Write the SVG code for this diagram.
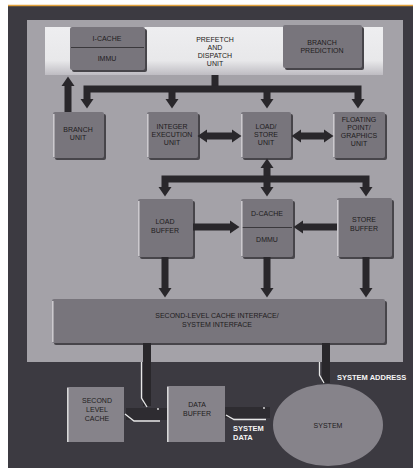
<svg xmlns="http://www.w3.org/2000/svg" width="416" height="468" viewBox="0 0 416 468">
<style>
.t{font-family:"Liberation Sans",Arial,sans-serif;font-size:7px;fill:#1e1c20;text-anchor:middle}
.w{font-family:"Liberation Sans",Arial,sans-serif;font-size:7.5px;font-weight:bold;fill:#f4f4f4}
.box{fill:#78757c}
.sh{fill:#47454a}
.hl{stroke:#d0ced2;stroke-width:1.5;fill:none}
.bus{stroke:#29272b;stroke-width:7;fill:none;stroke-linejoin:miter}
.lk{stroke:#29272b;stroke-width:8;fill:none}
.wl{stroke:#e6e6e6;stroke-width:1.3;fill:none}
.sep{stroke:#3a383c;stroke-width:1}
.low{fill:#86838a}
</style>
<defs>
<marker id="ah" viewBox="0 -7 10 14" markerUnits="userSpaceOnUse" markerWidth="10" markerHeight="14" refX="0" refY="0" orient="auto-start-reverse">
<path d="M0,-6.5 L9.5,0 L0,6.5 z" fill="#29272b"/>
</marker>
<linearGradient id="wg" x1="0" y1="0" x2="0" y2="1">
<stop offset="0" stop-color="#eeeef0"/>
<stop offset="0.7" stop-color="#e8e8ea"/>
<stop offset="1" stop-color="#bebcc2"/>
</linearGradient>
</defs>
<!-- frame -->
<rect x="0" y="0" width="416" height="468" fill="#ffffff"/>
<rect x="8" y="6" width="405" height="462" fill="#3c3a41"/>
<line x1="8" y1="5.5" x2="413" y2="5.5" stroke="#e3a23c" stroke-width="1.5"/>
<rect x="27" y="20" width="376" height="342" fill="#a4a2a8"/>
<g id="prefetch">
<rect x="45" y="27" width="338" height="48" fill="url(#wg)"/>
<text class="t" x="215" y="42">PREFETCH</text>
<text class="t" x="215" y="50">AND</text>
<text class="t" x="215" y="58">DISPATCH</text>
<text class="t" x="215" y="66">UNIT</text>
</g>
<g id="icache">
<rect class="sh" x="72" y="29" width="75" height="43" rx="2"/>
<rect class="box" x="70" y="27" width="75" height="43" rx="2"/>
<line class="sep" x1="71" y1="47.5" x2="144" y2="47.5"/>
<text class="t" x="107" y="41">I-CACHE</text>
<text class="t" x="107" y="61">IMMU</text>
</g>
<g id="branchpred">
<rect class="sh" x="285" y="27" width="79" height="43" rx="2"/>
<rect class="box" x="283" y="25" width="79" height="43" rx="2"/>
<text class="t" x="322" y="45">BRANCH</text>
<text class="t" x="322" y="53">PREDICTION</text>
</g>
<g id="branchunit">
<rect class="sh" x="55" y="114" width="51" height="46" rx="2"/>
<rect class="box" x="53" y="112" width="51" height="46" rx="2"/>
<line class="hl" x1="53.8" y1="114" x2="53.8" y2="157"/>
<text class="t" x="78" y="132">BRANCH</text>
<text class="t" x="78" y="140">UNIT</text>
</g>
<g id="integer">
<rect class="sh" x="149" y="114" width="51" height="46" rx="2"/>
<rect class="box" x="147" y="112" width="51" height="46" rx="2"/>
<line class="hl" x1="147.8" y1="114" x2="147.8" y2="157"/>
<text class="t" x="172" y="129">INTEGER</text>
<text class="t" x="172" y="137">EXECUTION</text>
<text class="t" x="172" y="145">UNIT</text>
</g>
<g id="loadstore">
<rect class="sh" x="243" y="114" width="50" height="46" rx="2"/>
<rect class="box" x="241" y="112" width="50" height="46" rx="2"/>
<line class="hl" x1="241.8" y1="114" x2="241.8" y2="157"/>
<text class="t" x="266" y="129">LOAD/</text>
<text class="t" x="266" y="137">STORE</text>
<text class="t" x="266" y="145">UNIT</text>
</g>
<g id="fpu">
<rect class="sh" x="335" y="114" width="52" height="46" rx="2"/>
<rect class="box" x="333" y="112" width="52" height="46" rx="2"/>
<line class="hl" x1="333.8" y1="114" x2="333.8" y2="157"/>
<text class="t" x="359" y="122">FLOATING</text>
<text class="t" x="359" y="130">POINT/</text>
<text class="t" x="359" y="138">GRAPHICS</text>
<text class="t" x="359" y="146">UNIT</text>
</g>
<g id="loadbuffer">
<rect class="sh" x="140" y="201" width="55" height="58" rx="2"/>
<rect class="box" x="138" y="199" width="55" height="58" rx="2"/>
<line class="hl" x1="138.8" y1="201" x2="138.8" y2="256"/>
<text class="t" x="165" y="224">LOAD</text>
<text class="t" x="165" y="233">BUFFER</text>
</g>
<g id="dcache">
<rect class="sh" x="243" y="201" width="52" height="58" rx="2"/>
<rect class="box" x="241" y="199" width="52" height="58" rx="2"/>
<line class="sep" x1="242" y1="227.5" x2="292" y2="227.5"/>
<line class="hl" x1="241.8" y1="201" x2="241.8" y2="256"/>
<text class="t" x="267" y="216">D-CACHE</text>
<text class="t" x="267" y="242">DMMU</text>
</g>
<g id="storebuffer">
<rect class="sh" x="339" y="200" width="55" height="59" rx="2"/>
<rect class="box" x="337" y="198" width="55" height="59" rx="2"/>
<line class="hl" x1="337.8" y1="200" x2="337.8" y2="256"/>
<text class="t" x="364" y="222">STORE</text>
<text class="t" x="364" y="231">BUFFER</text>
</g>
<g id="interface">
<rect class="sh" x="54" y="301" width="333" height="44" rx="2"/>
<rect class="box" x="52" y="299" width="333" height="44" rx="2"/>
<line class="hl" x1="52.8" y1="301" x2="52.8" y2="342"/>
<text class="t" x="217" y="318">SECOND-LEVEL CACHE INTERFACE/</text>
<text class="t" x="217" y="327">SYSTEM INTERFACE</text>
</g>
<g id="connectors">
<path class="bus" d="M215,75 V89"/>
<path class="bus" d="M87,99 V89 H358 V99" marker-start="url(#ah)" marker-end="url(#ah)"/>
<path class="bus" d="M172,89 V99" marker-end="url(#ah)"/>
<path class="bus" d="M267,89 V99" marker-end="url(#ah)"/>
<path class="bus" d="M68,112 V86" marker-end="url(#ah)"/>
<path class="bus" d="M207,136 H232" marker-start="url(#ah)" marker-end="url(#ah)"/>
<path class="bus" d="M301,136 H324" marker-start="url(#ah)" marker-end="url(#ah)"/>
<path class="bus" d="M267,168 V179" marker-start="url(#ah)"/>
<path class="bus" d="M165,187 V179 H366 V187" marker-start="url(#ah)" marker-end="url(#ah)"/>
<path class="bus" d="M267,179 V187" marker-end="url(#ah)"/>
<path class="bus" d="M193,227 H230" marker-end="url(#ah)"/>
<path class="bus" d="M337,227 H303" marker-end="url(#ah)"/>
<path class="bus" d="M165,257 V288" marker-end="url(#ah)"/>
<path class="bus" d="M267,257 V288" marker-end="url(#ah)"/>
<path class="bus" d="M366,257 V288" marker-end="url(#ah)"/>
<path class="lk" d="M147,343 V406"/>
<path class="lk" d="M326,343 V383"/>
<rect x="126" y="408" width="41" height="12" fill="#2e2c31"/>
<rect x="225" y="407" width="45" height="11" fill="#2e2c31"/>
<path class="wl" d="M141.5,362 V398 L147,407"/>
<path class="wl" d="M125,414 L134,421 H160"/>
<path class="wl" d="M226,415 L234,419.5 H266"/>
<path class="wl" d="M319.5,362 V375 L324,383"/>
<circle cx="158" cy="409" r="0.9" fill="#e6e6e6"/>
<circle cx="264" cy="408" r="0.9" fill="#e6e6e6"/>
</g>
<g id="secondlevel">
<rect class="low" x="67" y="387" width="57" height="55"/>
<line x1="67.8" y1="388" x2="67.8" y2="442" stroke="#dcdcdc" stroke-width="1.5"/>
<text class="t" x="97" y="403">SECOND</text>
<text class="t" x="97" y="412">LEVEL</text>
<text class="t" x="97" y="421">CACHE</text>
</g>
<g id="databuffer">
<rect class="low" x="167" y="386" width="58" height="56"/>
<line x1="167.8" y1="387" x2="167.8" y2="442" stroke="#dcdcdc" stroke-width="1.5"/>
<text class="t" x="197" y="407">DATA</text>
<text class="t" x="197" y="416">BUFFER</text>
</g>
<g id="system">
<ellipse class="low" cx="328" cy="425" rx="55" ry="41"/>
<text class="t" x="328" y="428">SYSTEM</text>
</g>
<text class="w" x="337" y="380">SYSTEM ADDRESS</text>
<text class="w" x="233" y="431">SYSTEM</text>
<text class="w" x="233" y="440">DATA</text>
</svg>
